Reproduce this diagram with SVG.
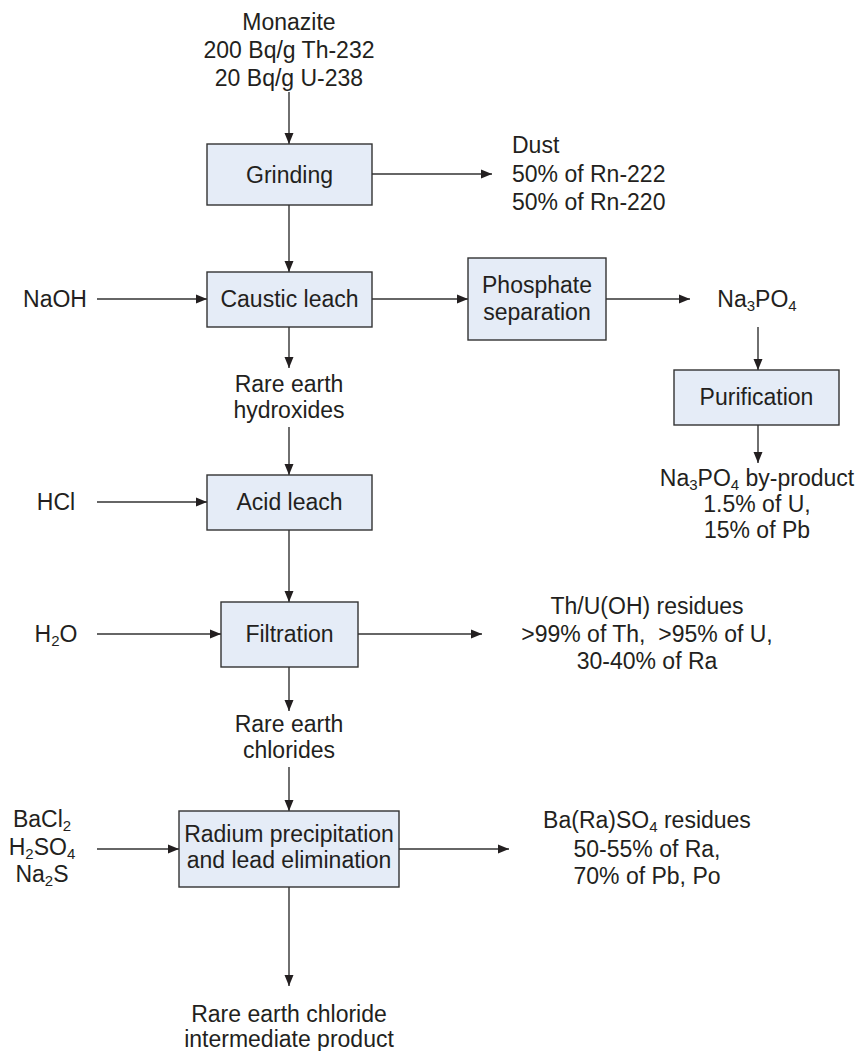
<svg xmlns="http://www.w3.org/2000/svg" width="858" height="1051" viewBox="0 0 858 1051">
<style>
text{font-family:"Liberation Sans",Arial,Helvetica,sans-serif;font-size:23px;fill:#231f20;text-anchor:middle}
.l{text-anchor:start}
.box{fill:#e5ecf7;stroke:#333;stroke-width:1.4}
.c{stroke:#333;stroke-width:1.4;fill:none;marker-end:url(#ah)}
.sub{font-size:15px}
</style>
<defs>
<marker id="ah" markerWidth="11" markerHeight="10" refX="11" refY="5" orient="auto" markerUnits="userSpaceOnUse" viewBox="0 0 11 10">
<path d="M0,0.5 L11,5 L0,9.5 Z" fill="#231f20"/>
</marker>
</defs>
<rect width="858" height="1051" fill="#fff"/>
<g id="connectors">
<line class="c" x1="289" y1="92" x2="289" y2="144"/>
<line class="c" x1="372" y1="174" x2="492" y2="174"/>
<line class="c" x1="289" y1="205" x2="289" y2="272"/>
<line class="c" x1="97" y1="299" x2="207" y2="299"/>
<line class="c" x1="372" y1="299" x2="468" y2="299"/>
<line class="c" x1="606" y1="299" x2="690" y2="299"/>
<line class="c" x1="758" y1="327" x2="758" y2="370"/>
<line class="c" x1="758" y1="425" x2="758" y2="463"/>
<line class="c" x1="289" y1="327" x2="289" y2="368"/>
<line class="c" x1="289" y1="427" x2="289" y2="475"/>
<line class="c" x1="97" y1="502" x2="207" y2="502"/>
<line class="c" x1="289" y1="530" x2="289" y2="602"/>
<line class="c" x1="97" y1="634" x2="221" y2="634"/>
<line class="c" x1="358" y1="634" x2="482" y2="634"/>
<line class="c" x1="289" y1="667" x2="289" y2="711"/>
<line class="c" x1="289" y1="767" x2="289" y2="811"/>
<line class="c" x1="97" y1="849" x2="179" y2="849"/>
<line class="c" x1="399" y1="849" x2="509" y2="849"/>
<line class="c" x1="289" y1="887" x2="289" y2="986"/>
</g>
<g id="monazite">
<text x="289" y="30">Monazite</text>
<text x="289" y="58">200 Bq/g Th-232</text>
<text x="289" y="86">20 Bq/g U-238</text>
</g>
<g id="grinding">
<rect class="box" x="207" y="144" width="165" height="61"/>
<text x="289.5" y="182.5">Grinding</text>
</g>
<g id="dust">
<text class="l" x="512" y="153">Dust</text>
<text class="l" x="512" y="182">50% of Rn-222</text>
<text class="l" x="512" y="210">50% of Rn-220</text>
</g>
<g id="naoh"><text x="55" y="307">NaOH</text></g>
<g id="caustic">
<rect class="box" x="207" y="272" width="165" height="55"/>
<text x="289.5" y="307">Caustic leach</text>
</g>
<g id="phosphate">
<rect class="box" x="468" y="258" width="138" height="82"/>
<text x="537" y="293">Phosphate</text>
<text x="537" y="320">separation</text>
</g>
<g id="na3po4">
<text x="757" y="307">Na<tspan class="sub" dy="4">3</tspan><tspan dy="-4">PO</tspan><tspan class="sub" dy="4">4</tspan></text>
</g>
<g id="purification">
<rect class="box" x="674" y="370" width="165" height="55"/>
<text x="756.5" y="405">Purification</text>
</g>
<g id="byproduct">
<text x="757" y="486">Na<tspan class="sub" dy="4">3</tspan><tspan dy="-4">PO</tspan><tspan class="sub" dy="4">4</tspan><tspan dy="-4"> by-product</tspan></text>
<text x="757" y="512">1.5% of U,</text>
<text x="757" y="538">15% of Pb</text>
</g>
<g id="hydroxides">
<text x="289" y="392">Rare earth</text>
<text x="289" y="418">hydroxides</text>
</g>
<g id="hcl"><text x="56" y="510">HCl</text></g>
<g id="acid">
<rect class="box" x="207" y="475" width="165" height="55"/>
<text x="289.5" y="510">Acid leach</text>
</g>
<g id="h2o"><text x="56" y="642">H<tspan class="sub" dy="4">2</tspan><tspan dy="-4">O</tspan></text></g>
<g id="filtration">
<rect class="box" x="221" y="602" width="137" height="65"/>
<text x="289.5" y="642">Filtration</text>
</g>
<g id="thu">
<text x="647" y="614">Th/U(OH) residues</text>
<text x="647" y="642" xml:space="preserve">&gt;99% of Th,  &gt;95% of U,</text>
<text x="647" y="669">30-40% of Ra</text>
</g>
<g id="chlorides">
<text x="289" y="732">Rare earth</text>
<text x="289" y="758">chlorides</text>
</g>
<g id="reagents">
<text x="42" y="827">BaCl<tspan class="sub" dy="4">2</tspan></text>
<text x="42" y="855">H<tspan class="sub" dy="4">2</tspan><tspan dy="-4">SO</tspan><tspan class="sub" dy="4">4</tspan></text>
<text x="42" y="882">Na<tspan class="sub" dy="4">2</tspan><tspan dy="-4">S</tspan></text>
</g>
<g id="radium">
<rect class="box" x="179" y="811" width="220" height="76"/>
<text x="289" y="842">Radium precipitation</text>
<text x="289" y="868">and lead elimination</text>
</g>
<g id="baraso4">
<text x="647" y="828">Ba(Ra)SO<tspan class="sub" dy="4">4</tspan><tspan dy="-4"> residues</tspan></text>
<text x="647" y="857">50-55% of Ra,</text>
<text x="647" y="884">70% of Pb, Po</text>
</g>
<g id="product">
<text x="289" y="1022">Rare earth chloride</text>
<text x="289" y="1047">intermediate product</text>
</g>
</svg>
